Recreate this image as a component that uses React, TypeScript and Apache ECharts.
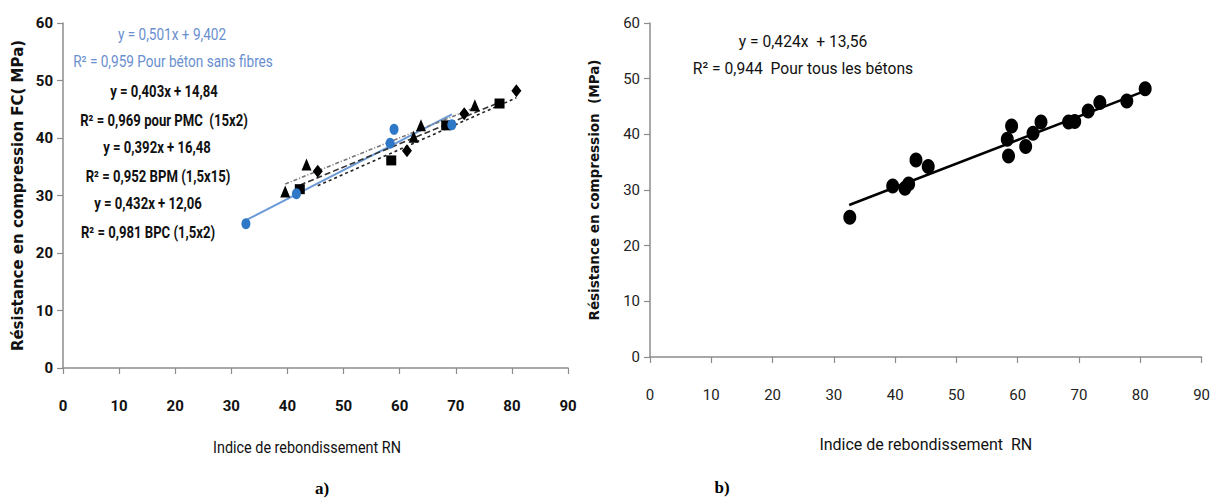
import React, { useEffect, useRef } from "react";
import * as echarts from "echarts";

// Measured points [RN, FC]
const sansFibres: number[][] = [[32.6, 25.1], [41.6, 30.3], [58.3, 39.1], [59.0, 41.5], [69.3, 42.3]];
const pmc: number[][] = [[42.2, 31.1], [58.5, 36.1], [68.3, 42.2], [77.8, 46.0]];
const bpm: number[][] = [[39.6, 30.7], [43.4, 35.4], [62.5, 40.2], [63.8, 42.2], [73.4, 45.7]];
const bpc: number[][] = [[45.4, 34.2], [61.3, 37.8], [71.5, 44.2], [80.8, 48.2]];

// Trend line end points
const trendSans: number[][] = [[32.6, 25.7], [69.3, 44.1]];
const trendPmc: number[][] = [[42.2, 31.8], [77.8, 46.2]];
const trendBpm: number[][] = [[39.6, 32.0], [73.4, 45.3]];
const trendBpc: number[][] = [[45.4, 31.7], [80.8, 47.0]];
const trendAll: number[][] = [[32.5, 27.3], [81.0, 47.9]];

const xTicks = { min: 0, max: 90, interval: 10 };
const yTicks = { min: 0, max: 60, interval: 10 };

const NARROW = "Roboto, 'Noto Sans', sans-serif";
const WIDE = "'DejaVu Sans', sans-serif";
const AXIS_GREY = "#8c8c8c";
const BLUE = "#2f78c8";
const BLUE_LINE = "#6b9ad6";
const BLUE_TEXT = "#6a8fcf";

export default function App() {
  const ref = useRef<HTMLDivElement>(null);
  useEffect(() => {
    if (!ref.current) return;
    const chart = echarts.init(ref.current, undefined, { renderer: "svg" });
    const all = [...sansFibres, ...pmc, ...bpm, ...bpc];

    const axisLine = { show: true, lineStyle: { color: AXIS_GREY, width: 1.5 } };
    const axisTick = { show: true, length: 6, lineStyle: { color: AXIS_GREY, width: 1.2 } };

    const txt = (text: string, x: number, y: number, opts: any = {}) => ({
      type: "text",
      x,
      y,
      scaleX: opts.scaleX || 0.82,
      style: {
        text,
        fill: opts.fill || "#111",
        font: opts.font || `bold 16px ${NARROW}`,
        textAlign: "center",
        textVerticalAlign: "middle",
      },
    });

    chart.setOption({
      animation: false,
      backgroundColor: "#fff",
      grid: [
        { left: 63, top: 23, width: 505, height: 345 },
        { left: 650, top: 23, width: 556, height: 334 },
      ],
      xAxis: [
        {
          gridIndex: 0, type: "value", ...xTicks,
          axisLine, axisTick, splitLine: { show: false },
          axisLabel: { margin: 30, fontSize: 15, fontWeight: "bold", color: "#111", fontFamily: NARROW },
        },
        {
          gridIndex: 1, type: "value", ...xTicks,
          axisLine, axisTick, splitLine: { show: false },
          axisLabel: { margin: 30, fontSize: 15, color: "#222", fontFamily: NARROW },
          name: "Indice de rebondissement  RN", nameLocation: "middle", nameGap: 79,
          nameTextStyle: { fontSize: 16, color: "#111", fontFamily: NARROW },
        },
      ],
      yAxis: [
        {
          gridIndex: 0, type: "value", ...yTicks,
          axisLine, axisTick, splitLine: { show: false },
          axisLabel: { margin: 10, fontSize: 15, fontWeight: "bold", color: "#111", fontFamily: NARROW },
          name: "Résistance en compression FC( MPa)", nameLocation: "middle", nameGap: 38,
          nameTextStyle: { fontSize: 15, fontWeight: "bold", color: "#111", fontFamily: WIDE },
        },
        {
          gridIndex: 1, type: "value", ...yTicks,
          axisLine, axisTick, splitLine: { show: false },
          axisLabel: { margin: 10, fontSize: 15, color: "#222", fontFamily: NARROW },
          name: "Résistance en compression  (MPa)", nameLocation: "middle", nameGap: 49,
          nameTextStyle: { fontSize: 13.5, fontWeight: "bold", color: "#111", fontFamily: WIDE },
        },
      ],
      series: [
        { type: "line", xAxisIndex: 0, yAxisIndex: 0, data: trendSans, symbol: "none", lineStyle: { color: BLUE_LINE, width: 2 }, z: 2 },
        { type: "line", xAxisIndex: 0, yAxisIndex: 0, data: trendPmc, symbol: "none", lineStyle: { color: "#333", width: 1.6, type: [6, 3] }, z: 2 },
        { type: "line", xAxisIndex: 0, yAxisIndex: 0, data: trendBpm, symbol: "none", lineStyle: { color: "#777", width: 1.6, type: [4, 2, 1, 2] }, z: 2 },
        { type: "line", xAxisIndex: 0, yAxisIndex: 0, data: trendBpc, symbol: "none", lineStyle: { color: "#222", width: 1.6, type: [3, 3] }, z: 2 },
        { type: "scatter", xAxisIndex: 0, yAxisIndex: 0, data: sansFibres, symbol: "circle", symbolSize: [9, 11], itemStyle: { color: BLUE, opacity: 1 }, z: 4 },
        { type: "scatter", xAxisIndex: 0, yAxisIndex: 0, data: pmc, symbol: "rect", symbolSize: [10, 10], itemStyle: { color: "#000", opacity: 1 }, z: 3 },
        { type: "scatter", xAxisIndex: 0, yAxisIndex: 0, data: bpm, symbol: "triangle", symbolSize: [10, 12], itemStyle: { color: "#000", opacity: 1 }, z: 3 },
        { type: "scatter", xAxisIndex: 0, yAxisIndex: 0, data: bpc, symbol: "diamond", symbolSize: [10, 13], itemStyle: { color: "#000", opacity: 1 }, z: 3 },
        { type: "line", xAxisIndex: 1, yAxisIndex: 1, data: trendAll, symbol: "none", lineStyle: { color: "#000", width: 2.5 }, z: 2 },
        { type: "scatter", xAxisIndex: 1, yAxisIndex: 1, data: all, symbol: "circle", symbolSize: [13, 15], itemStyle: { color: "#000", opacity: 1 }, z: 3 },
      ],
      graphic: [
        txt("y = 0,501x + 9,402", 172, 35, { fill: BLUE_TEXT, font: `16px ${NARROW}`, scaleX: 0.85 }),
        txt("R² = 0,959 Pour béton sans fibres", 173, 62, { fill: BLUE_TEXT, font: `16px ${NARROW}`, scaleX: 0.85 }),
        txt("y = 0,403x + 14,84", 164, 92),
        txt("R² = 0,969 pour PMC  (15x2)", 164, 121),
        txt("y = 0,392x + 16,48", 157, 148),
        txt("R² = 0,952 BPM (1,5x15)", 158, 177),
        txt("y = 0,432x + 12,06", 148, 204),
        txt("R² = 0,981 BPC (1,5x2)", 148, 233),
        txt("y = 0,424x  + 13,56", 803, 41, { fill: "#111", font: `17px ${NARROW}`, scaleX: 0.92 }),
        txt("R² = 0,944  Pour tous les bétons", 803, 68, { fill: "#111", font: `17px ${NARROW}`, scaleX: 0.92 }),
        txt("Indice de rebondissement RN", 307, 448, { fill: "#111", font: `16px ${NARROW}`, scaleX: 0.9 }),
        txt("a)", 322, 488, { fill: "#000", font: "bold 17px 'Liberation Serif', serif", scaleX: 1 }),
        txt("b)", 722, 487, { fill: "#000", font: "bold 17px 'Liberation Serif', serif", scaleX: 1 }),
      ],
    });
    return () => chart.dispose();
  }, []);
  return (
    <div
      ref={ref}
      style={{ position: "fixed", left: 0, top: 0, width: 1213, height: 501, background: "#fff" }}
    />
  );
}
